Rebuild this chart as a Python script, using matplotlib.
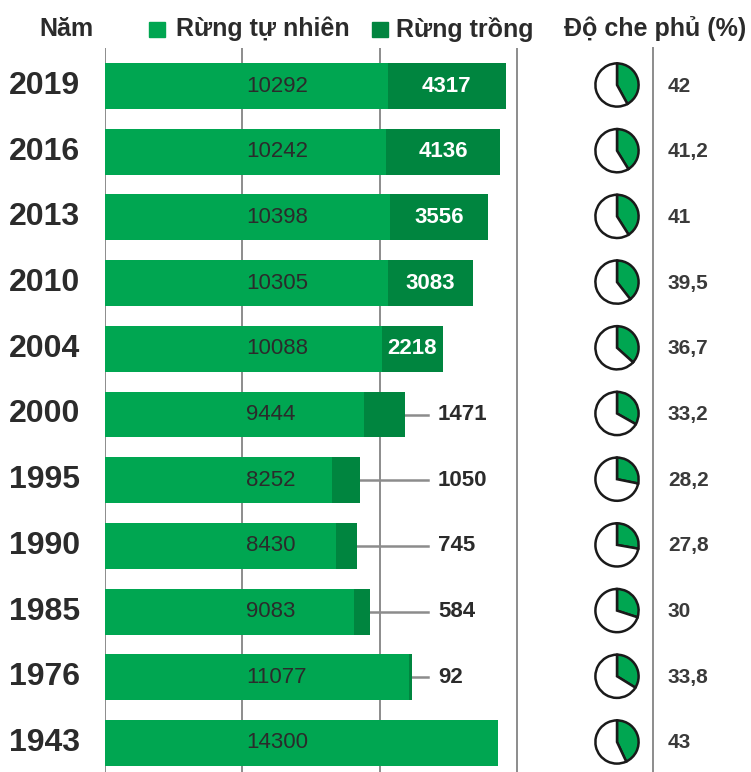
import matplotlib.pyplot as plt
from matplotlib.patches import Rectangle
from matplotlib.lines import Line2D

plt.rcParams['font.family'] = ['Liberation Sans', 'DejaVu Sans']

years = ['2019', '2016', '2013', '2010', '2004', '2000', '1995', '1990', '1985', '1976', '1943']
natural = [10292, 10242, 10398, 10305, 10088, 9444, 8252, 8430, 9083, 11077, 14300]
planted = [4317, 4136, 3556, 3083, 2218, 1471, 1050, 745, 584, 92, 0]
cover = [42, 41.2, 41, 39.5, 36.7, 33.2, 28.2, 27.8, 30, 33.8, 43]
cover_labels = ['42', '41,2', '41', '39,5', '36,7', '33,2', '28,2', '27,8', '30', '33,8', '43']

c_nat = '#00a651'
c_pla = '#00853f'
c_text = '#2b2b2b'
c_grid = '#8c8c8c'

W, H = 751, 772
fig = plt.figure(figsize=(W / 100, H / 100), dpi=100)
fig.patch.set_facecolor('white')

# bar panel: left edge at 105px, grid starts at 48px from the top
px_per_unit = 0.02745
top_px, row0, row_step = 48, 86, 65.7
ax = fig.add_axes([105 / W, 0, (W - 105) / W, (H - top_px) / H])
ax.set_xlim(0, (W - 105) / px_per_unit)
ax.set_ylim((H - row0) / row_step, -(row0 - top_px) / row_step)
ax.axis('off')

for gx in [0, 5000, 10000, 15000]:
    ax.axvline(gx, color=c_grid, lw=1.4, zorder=0)

ypos = list(range(len(years)))
ax.barh(ypos, natural, height=0.7, color=c_nat, zorder=2)
ax.barh(ypos, planted, left=natural, height=0.7, color=c_pla, zorder=2)

label_x = 5150
lead_end, lead_text = 11760, 12130
for i, (n, p) in enumerate(zip(natural, planted)):
    ax.text(label_x, i, str(n), va='center', ha='left', fontsize=16, color=c_text, zorder=3)
    if p == 0:
        continue
    if p >= 2000:
        ax.text(n + p / 2, i, str(p), va='center', ha='center', fontsize=16,
                fontweight='bold', color='white', zorder=3)
    else:
        ax.plot([n + p, lead_end], [i, i], color=c_grid, lw=1.8, zorder=1)
        ax.text(lead_text, i, str(p), va='center', ha='left', fontsize=16,
                fontweight='bold', color=c_text, zorder=3)

# year labels
for i, y in enumerate(years):
    yc = row0 + i * row_step
    fig.text(80 / W, 1 - yc / H, y, ha='right', va='center', fontsize=23,
             fontweight='bold', color=c_text)

# coverage pies and values
sep_x = 653
fig.add_artist(Line2D([sep_x / W, sep_x / W], [0, (H - top_px) / H],
                      transform=fig.transFigure, color=c_grid, lw=1.4))
d = 54
for i, (c, lab) in enumerate(zip(cover, cover_labels)):
    yc = row0 + i * row_step - 1
    pax = fig.add_axes([(617 - d / 2) / W, 1 - (yc + d / 2) / H, d / W, d / H])
    pax.pie([c, 100 - c], colors=[c_nat, 'white'], startangle=90, counterclock=False,
            wedgeprops=dict(edgecolor='#1a1a1a', linewidth=1.8))
    fig.text(668 / W, 1 - (yc + 1) / H, lab, ha='left', va='center', fontsize=15,
             fontweight='bold', color='#3a3a3a')

# header row
hy = 1 - 29 / H
fig.text(66 / W, hy, 'Năm', ha='center', va='center', fontsize=18,
         fontweight='bold', color=c_text)
fig.add_artist(Rectangle((149 / W, 1 - 37 / H), 16 / W, 15 / H,
                         transform=fig.transFigure, color=c_nat))
fig.text(176 / W, hy, 'Rừng tự nhiên', ha='left', va='center', fontsize=18,
         fontweight='bold', color=c_text)
fig.add_artist(Rectangle((372 / W, 1 - 37 / H), 16 / W, 15 / H,
                         transform=fig.transFigure, color=c_pla))
fig.text(396 / W, hy, 'Rừng trồng', ha='left', va='center', fontsize=18,
         fontweight='bold', color=c_text)
fig.text(746 / W, hy, 'Độ che phủ (%)', ha='right', va='center', fontsize=18,
         fontweight='bold', color=c_text)

fig.savefig('out.png', dpi=100)
